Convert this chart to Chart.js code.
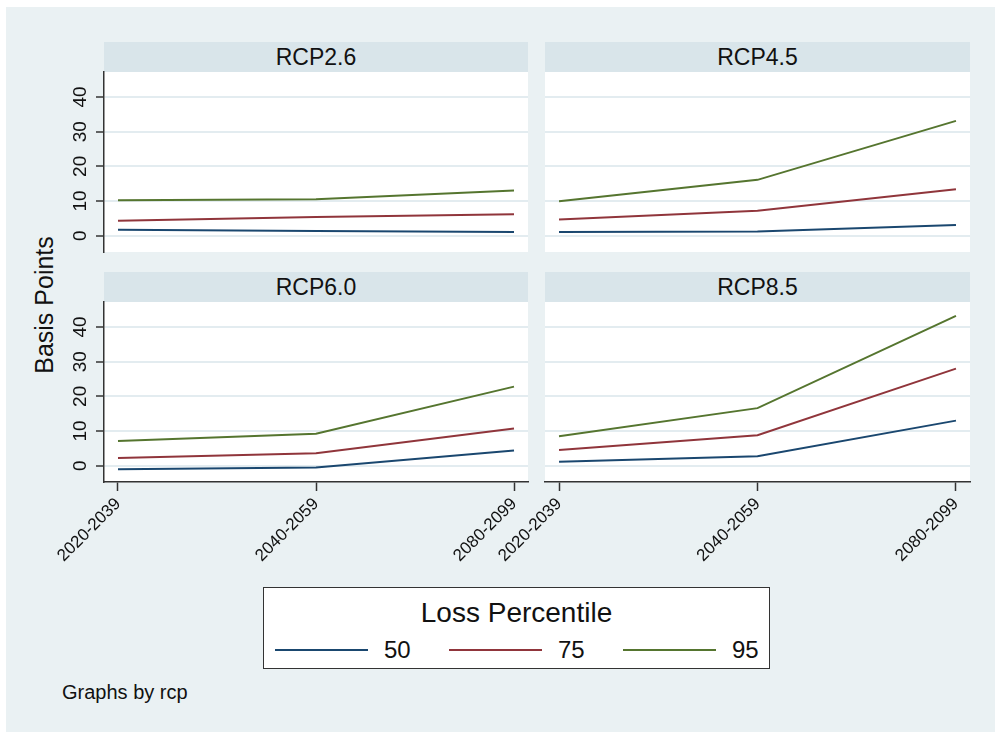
<!DOCTYPE html>
<html>
<head>
<meta charset="utf-8">
<script src="https://cdn.jsdelivr.net/npm/chart.js@4.4.1/dist/chart.umd.min.js"></script>
<style>
  body { margin: 0; background: #fff; font-family: "Liberation Sans", Arial, sans-serif; }
  #page { position: relative; width: 995px; height: 732px; overflow: hidden; }
  #bg { position: absolute; left: 6px; top: 7px; width: 989px; height: 725px; background: #EAF1F3; }
  canvas { position: absolute; }
  .strip { position: absolute; height: 30px; background: #D9E5EA; color: #111;
           font-size: 23px; line-height: 30px; text-align: center; }
  #ytitle { position: absolute; left: 44px; top: 305px; font-size: 25px; color: #111;
            transform: translate(-50%, -50%) rotate(-90deg); white-space: nowrap; }
  #note { position: absolute; left: 62px; top: 681px; font-size: 20px; color: #111; }
  #legend { position: absolute; left: 263px; top: 587px; width: 505px; height: 80px;
            background: #fff; border: 1.5px solid #333; }
  #legend .title { position: absolute; left: 0; right: 0; top: 8px; text-align: center;
                   font-size: 28px; color: #111; line-height: 34px; }
  #legend .key { position: absolute; height: 2px; top: 61px; }
  #legend .lab { position: absolute; top: 48px; font-size: 24px; line-height: 28px; color: #111; }
</style>
</head>
<body>
<div id="page">
  <div id="bg"></div>
  <div id="ytitle">Basis Points</div>
  <div id="note">Graphs by rcp</div>
  <div id="legend"><div class="title">Loss Percentile</div></div>
</div>
<script>
const periods = ['2020-2039', '2040-2059', '2080-2099'];
const scenarios = ['RCP2.6', 'RCP4.5', 'RCP6.0', 'RCP8.5'];
const percentiles = ['50', '75', '95'];
const yTicks = [0, 10, 20, 30, 40];

// one row per scenario, one value per period
const p50 = [[1.7, 1.35, 1.1], [1.05, 1.2, 3.1], [-1.0, -0.5, 4.4], [1.15, 2.7, 13.0]];
const p75 = [[4.3, 5.4, 6.2], [4.7, 7.2, 13.4], [2.2, 3.6, 10.7], [4.5, 8.8, 28.0]];
const p95 = [[10.2, 10.5, 13.0], [9.9, 16.1, 33.1], [7.1, 9.2, 22.8], [8.5, 16.6, 43.2]];
const lineColors = ['#1A476F', '#90353B', '#55752F'];

const series = [p50, p75, p95];

// panel layout: left col / right col, top row / bottom row
// canvases are a bit taller than the plot, padding puts the plot area in place
const panels = [
  { left: 40,  top: 48,  w: 492, h: 228, padL: 0,  showY: true,  showX: false, sx: 104, sw: 424, sy: 42 },
  { left: 485, top: 48,  w: 489, h: 228, padL: 60, showY: false, showX: false, sx: 545, sw: 425, sy: 42 },
  { left: 40,  top: 278, w: 492, h: 292, padL: 0,  showY: true,  showX: true,  sx: 104, sw: 424, sy: 272 },
  { left: 485, top: 278, w: 489, h: 292, padL: 60, showY: false, showX: true,  sx: 545, sw: 425, sy: 272 }
];

const page = document.getElementById('page');

const plotBg = {
  id: 'plotBg',
  beforeDraw(chart) {
    const { ctx, chartArea: a } = chart;
    ctx.save();
    ctx.fillStyle = '#fff';
    ctx.fillRect(a.left, a.top, a.right - a.left, a.bottom - a.top);
    ctx.restore();
  }
};

panels.forEach((p, k) => {
  const strip = document.createElement('div');
  strip.className = 'strip';
  strip.style.left = p.sx + 'px';
  strip.style.top = p.sy + 'px';
  strip.style.width = p.sw + 'px';
  strip.textContent = scenarios[k];
  page.appendChild(strip);

  const cv = document.createElement('canvas');
  cv.width = p.w;
  cv.height = p.h;
  cv.style.left = p.left + 'px';
  cv.style.top = p.top + 'px';
  page.appendChild(cv);

  new Chart(cv.getContext('2d'), {
    type: 'line',
    data: {
      datasets: percentiles.map((name, j) => ({
        label: name,
        data: series[j][k].map((v, i) => ({ x: i, y: v })),
        borderColor: lineColors[j],
        borderWidth: 2,
        pointRadius: 0,
        tension: 0,
        fill: false
      }))
    },
    options: {
      responsive: false,
      animation: false,
      devicePixelRatio: 1,
      layout: { padding: { left: p.padL, top: 24, right: 4, bottom: p.showX ? 0 : 24 } },
      plugins: { legend: { display: false }, tooltip: { enabled: false } },
      scales: {
        x: {
          type: 'linear',
          min: -0.0707,
          max: 2.0707,
          display: p.showX,
          afterBuildTicks: s => { s.ticks = periods.map((_, i) => ({ value: i })); },
          afterFit: s => { s.height = p.showX ? 88 : 0; },
          border: { display: true, color: '#333', width: 1.5 },
          grid: { drawOnChartArea: false, drawTicks: true, tickLength: 9, tickColor: '#333', tickWidth: 1.5 },
          ticks: {
            autoSkip: false,
            minRotation: 45,
            maxRotation: 45,
            padding: 3,
            color: '#111',
            font: { family: 'Liberation Sans', size: 17 },
            callback: v => periods[v]
          }
        },
        y: {
          min: -4.7,
          max: 47.2,
          afterBuildTicks: s => { s.ticks = yTicks.map(v => ({ value: v })); },
          afterFit: s => { s.width = p.showY ? 64 : 0; },
          border: { display: p.showY, color: '#333', width: 1.5 },
          grid: {
            color: '#E3ECF0',
            lineWidth: 2,
            drawTicks: p.showY,
            tickLength: 8,
            tickColor: '#333',
            tickWidth: 1.5
          },
          ticks: {
            display: p.showY,
            minRotation: 90,
            maxRotation: 90,
            crossAlign: 'center',
            padding: 5,
            color: '#111',
            font: { family: 'Liberation Sans', size: 19 }
          }
        }
      }
    },
    plugins: [plotBg]
  });
});

// legend keys built from the same arrays
const legend = document.getElementById('legend');
const keyX = [11, 185, 359];
percentiles.forEach((name, j) => {
  const key = document.createElement('div');
  key.className = 'key';
  key.style.left = keyX[j] + 'px';
  key.style.width = '93px';
  key.style.background = lineColors[j];
  legend.appendChild(key);
  const lab = document.createElement('div');
  lab.className = 'lab';
  lab.style.left = (keyX[j] + 109) + 'px';
  lab.textContent = name;
  legend.appendChild(lab);
});
</script>
</body>
</html>
